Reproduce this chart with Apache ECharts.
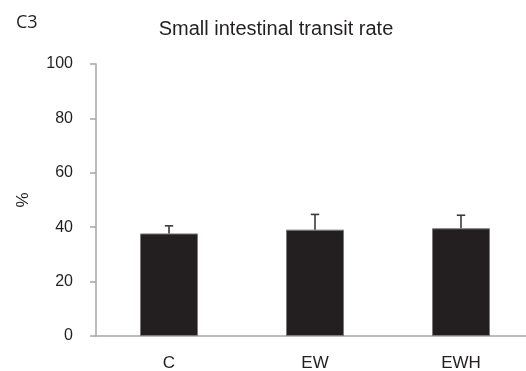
<!DOCTYPE html>
<html>
<head>
<meta charset="utf-8">
<script src="https://cdn.jsdelivr.net/npm/echarts@6/dist/echarts.min.js"></script>
<style>html,body{margin:0;padding:0;background:#fff}#c{width:526px;height:371px}</style>
</head>
<body>
<div id="c"></div>
<script>
const categories = ['C', 'EW', 'EWH'];
const means = [37.7, 39.1, 39.6];
const errors = [2.8, 5.6, 4.8];
const yTicks = [0, 20, 40, 60, 80, 100];

const chart = echarts.init(document.getElementById('c'), null, {renderer: 'canvas'});
const textColor = '#231f20';
const axisColor = '#a6a6a6';

chart.setOption({
  animation: false,
  backgroundColor: '#fff',
  title: [
    {text: 'Small intestinal transit rate', left: 271, top: 14, textAlign: 'center',
     textStyle: {fontFamily: 'Liberation Sans', fontSize: 20, fontWeight: 'normal', color: textColor}},
    {text: 'C3', left: 11, top: 9,
     textStyle: {fontFamily: 'Open Sans', fontSize: 18, fontWeight: 'normal', color: textColor}}
  ],
  grid: {left: 96, top: 64, bottom: 35, right: -8, containLabel: false, outerBoundsMode: 'none'},
  xAxis: {
    type: 'category',
    data: categories,
    axisLine: {lineStyle: {color: axisColor, width: 1.5}},
    axisTick: {show: false},
    axisLabel: {margin: 19, fontFamily: 'Liberation Sans', fontSize: 17, color: textColor}
  },
  yAxis: {
    type: 'value',
    min: yTicks[0], max: yTicks[yTicks.length - 1], interval: 20,
    name: '%', nameLocation: 'middle', nameGap: 64, nameRotate: 90,
    nameTextStyle: {fontFamily: 'Liberation Sans', fontSize: 17, color: textColor},
    axisLine: {show: true, lineStyle: {color: axisColor, width: 1.5}},
    axisTick: {show: true, inside: false, length: 6, lineStyle: {color: axisColor, width: 1.5}},
    splitLine: {show: false},
    axisLabel: {margin: 23, fontFamily: 'Liberation Sans', fontSize: 16, color: textColor}
  },
  series: [
    {
      type: 'bar',
      data: means,
      barWidth: 58,
      itemStyle: {color: '#231f20', borderColor: '#7a7a7a', borderWidth: 1}
    },
    {
      type: 'custom',
      data: categories.map((c, i) => [i, means[i], means[i] + errors[i]]),
      renderItem: function (params, api) {
        const x = api.value(0);
        const lo = api.coord([x, api.value(1)]);
        const hi = api.coord([x, api.value(2)]);
        const cap = 4.2;
        const style = {stroke: '#3a3a3a', lineWidth: 1.6};
        return {
          type: 'group',
          children: [
            {type: 'line', shape: {x1: lo[0], y1: lo[1], x2: hi[0], y2: hi[1]}, style: style},
            {type: 'line', shape: {x1: hi[0] - cap, y1: hi[1], x2: hi[0] + cap, y2: hi[1]}, style: style}
          ]
        };
      },
      z: 3
    }
  ]
});
</script>
</body>
</html>
